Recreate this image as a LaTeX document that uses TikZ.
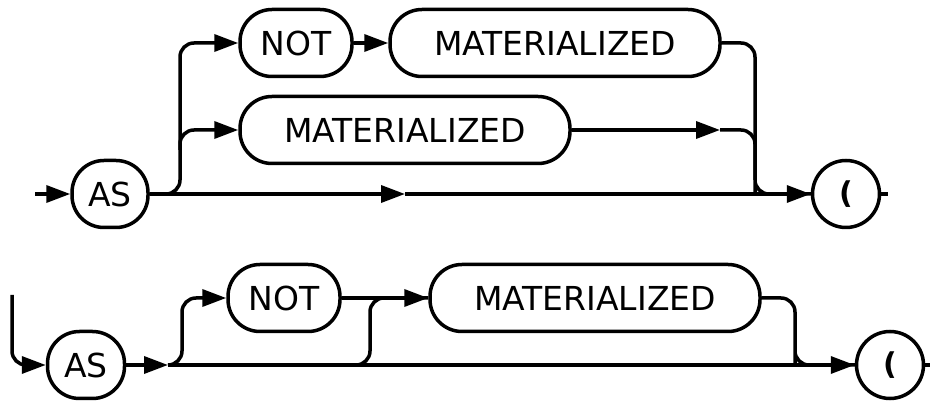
\documentclass[tikz,border=0pt]{standalone}
\usepackage{fontspec}
\setmainfont{DejaVu Sans}
\usetikzlibrary{arrows.meta,positioning}
\tikzset{
	rail/.style={line width=3.5pt, rounded corners=14pt},
	tip/.style={-{Triangle[length=24pt,width=17pt]}},
	term/.style={draw, line width=3.5pt, rounded corners=32pt, minimum height=67pt, inner xsep=14pt,
		font=\fontsize{33}{36}\selectfont},
	paren/.style={term, circle, minimum size=67pt, inner sep=0pt, font=\fontsize{30}{36}\selectfont\bfseries}
}
\begin{document}
\begin{tikzpicture}[x=1pt,y=-1pt]
	\useasboundingbox (0,0) rectangle (935,411);
	% first row
	\node[term, minimum width=76pt] (as1) at (110,194) {AS};
	\node[term, minimum width=112pt] (not1) at (296,43) {NOT};
	\node[term, minimum width=330pt] (mat1) at (555,43) {MATERIALIZED};
	\node[term, minimum width=330pt] (mat2) at (405,130) {MATERIALIZED};
	\node[paren] (par1) at (846,194) {(};
	\coordinate (s1) at (35,194);
	\coordinate (e1) at (888,194);
	\coordinate (m1) at (405,194);
	\coordinate (m2) at (720,130);
	\draw[rail,tip] (s1) -- (as1);
	\draw[rail,tip] (as1.east) -- (m1);
	\draw[rail,tip] (m1) -- (par1.west);
	\draw[rail,tip] (as1.east) -| (180,130) |- (not1.west);
	\draw[rail,tip] (180,150) |- (mat2.west);
	\draw[rail,tip] (not1) -- (mat1);
	\draw[rail,tip] (mat2) -- (m2);
	\draw[rail] (m2) -| (755,180) |- (par1.west);
	\draw[rail] (mat1.east) -| (755,180);
	\draw[rail] (par1) -- (e1);
	% second row
	\node[term, minimum width=77pt] (as2) at (86,365) {AS};
	\node[term, minimum width=112pt] (not2) at (284,298) {NOT};
	\node[term, minimum width=330pt] (mat3) at (595,298) {MATERIALIZED};
	\node[paren] (par2) at (890,365) {(};
	\coordinate (s2) at (12,295);
	\coordinate (m3) at (168,365);
	\coordinate (e2) at (930,365);
	\draw[rail,tip] (s2) |- (as2);
	\draw[rail,tip] (as2) -- (m3);
	\draw[rail,tip] (m3) -- (par2.west);
	\draw[rail,tip] (m3) -| (182,330) |- (not2.west);
	\draw[rail,tip] (not2) -- (mat3);
	\draw[rail] (350,365) -| (370,330) |- (mat3.west);
	\draw[rail] (mat3.east) -| (795,350) |- (par2.west);
	\draw[rail] (par2) -- (e2);
\end{tikzpicture}
\end{document}
